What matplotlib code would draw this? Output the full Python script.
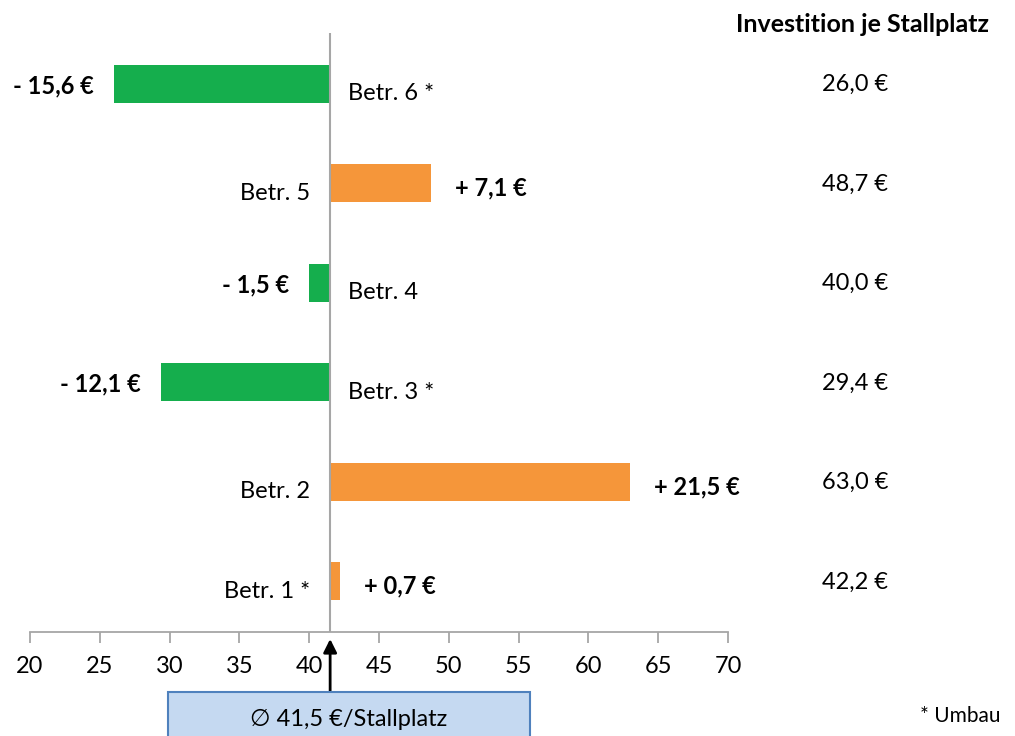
import matplotlib
matplotlib.use("Agg")
import matplotlib.pyplot as plt
from matplotlib.patches import Rectangle, FancyArrowPatch

plt.rcParams['font.family'] = ['Lato', 'DejaVu Sans']

# Betriebe von unten nach oben
betriebe = ["Betr. 1 *", "Betr. 2", "Betr. 3 *", "Betr. 4", "Betr. 5", "Betr. 6 *"]
investition = [42.2, 63.0, 29.4, 40.0, 48.7, 26.0]          # € je Stallplatz
abweichung = [0.7, 21.5, -12.1, -1.5, 7.1, -15.6]           # € gegenüber Mittelwert
mittelwert = 41.5
x_ticks = [20, 25, 30, 35, 40, 45, 50, 55, 60, 65, 70]

GREEN = "#15AE4D"
ORANGE = "#F5963A"
AXIS_GRAY = "#A6A6A6"

W, H = 1015, 736
PT = 0.72  # Punkte je Pixel bei 100 dpi
fig = plt.figure(figsize=(W / 100, H / 100), dpi=100)
ax = fig.add_axes([30 / W, (H - 632) / H, (728 - 30) / W, (632 - 33) / H])

ypos = list(range(len(betriebe)))
widths = [v - mittelwert for v in investition]
colors = [GREEN if w < 0 else ORANGE for w in widths]
ax.barh(ypos, widths, left=mittelwert, height=0.385, color=colors, zorder=2)

ax.set_xlim(20, 70)
ax.set_ylim(-0.51, 5.51)
ax.set_xticks(x_ticks)
ax.set_xticklabels([str(t) for t in x_ticks], fontsize=17)
ax.set_yticks([])
for s in ("top", "right", "left"):
    ax.spines[s].set_visible(False)
ax.spines["bottom"].set_color(AXIS_GRAY)
ax.spines["bottom"].set_linewidth(1.3)
ax.tick_params(axis="x", length=8, width=1.3, color=AXIS_GRAY, pad=9, direction="out")
ax.axvline(mittelwert, color=AXIS_GRAY, lw=1.5, zorder=3)

fs = 17
for y, inv, d, name in zip(ypos, investition, abweichung, betriebe):
    sign = "+ " if d >= 0 else "- "
    val_txt = sign + f"{abs(d):.1f}".replace(".", ",") + " €"
    if d >= 0:
        ax.annotate(val_txt, (inv, y), xytext=(24 * PT, -5 * PT), textcoords="offset points",
                    ha="left", va="center", fontsize=fs, fontweight="bold")
        ax.annotate(name, (mittelwert, y), xytext=(-20 * PT, -10 * PT), textcoords="offset points",
                    ha="right", va="center", fontsize=fs)
    else:
        ax.annotate(val_txt, (inv, y), xytext=(-20 * PT, -2 * PT), textcoords="offset points",
                    ha="right", va="center", fontsize=fs, fontweight="bold")
        ax.annotate(name, (mittelwert, y), xytext=(18 * PT, -10 * PT), textcoords="offset points",
                    ha="left", va="center", fontsize=fs)
    # Spalte rechts: Investition je Stallplatz
    ax.annotate(f"{inv:.1f}".replace(".", ",") + " €", (1.0, y), xycoords=("axes fraction", "data"),
                xytext=(127 * PT, -1 * PT), textcoords="offset points", ha="center", va="center",
                fontsize=fs, annotation_clip=False)

fig.text(862 / W, 1 - 24 / H, "Investition je Stallplatz", ha="center", va="center",
         fontsize=18, fontweight="bold")
fig.text(1 - 14 / W, 1 - 716 / H, "* Umbau", ha="right", va="center", fontsize=15)

# Kasten mit Mittelwert und Pfeil zur Achse
box = Rectangle((168 / W, -0.01), (530 - 168) / W, (736 - 692) / H + 0.01,
                transform=fig.transFigure, facecolor="#C5D9F1", edgecolor="#4F81BD",
                lw=1.5, clip_on=False)
fig.patches.append(box)
fig.text(349 / W, 1 - 719 / H, "\u2205 41,5 €/Stallplatz", ha="center", va="center", fontsize=fs)
arrow_x = ax.transData.transform((mittelwert, 0))[0] / W
fig.add_artist(FancyArrowPatch(
    (arrow_x, (736 - 692) / H), (arrow_x, (736 - 639) / H), transform=fig.transFigure,
    arrowstyle="-|>", mutation_scale=20, color="black", lw=2, shrinkA=0, shrinkB=0))

fig.savefig("out.png", dpi=100)
